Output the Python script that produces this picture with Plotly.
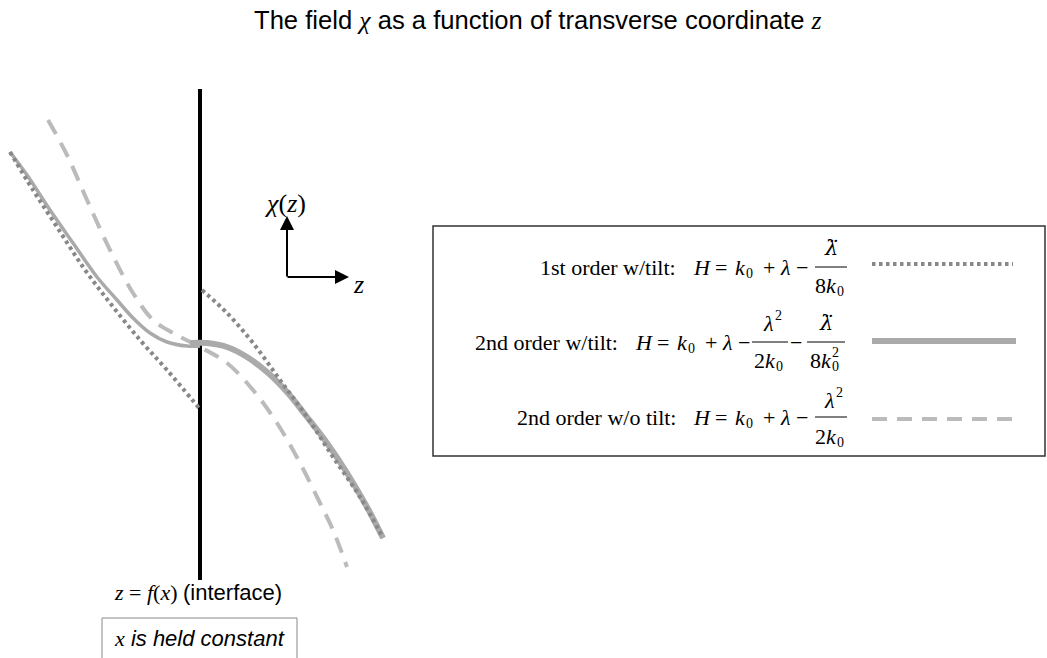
import plotly.graph_objects as go

# Drawing units: horizontal = transverse coordinate z, vertical = field chi (screen-down positive)
W, H_FIG = 1047, 658

# Interface location
interface_z = [200, 200]
interface_chi = [89, 580]

# 2nd order w/tilt (solid), left and right of the interface
solid_left_z = [10, 27, 50, 73, 97, 117, 133, 150, 167, 187, 200]
solid_left_chi = [152, 175, 210, 243, 277, 300, 318, 333, 342, 346, 346]
solid_right_z = [190, 207, 227, 247, 267, 287, 307, 327, 347, 367, 383]
solid_right_chi = [343, 343, 347, 357, 372, 392, 417, 443, 473, 507, 538]

# 1st order w/tilt (dotted), left and right of the interface
dot_left_z = [10, 33, 57, 83, 110, 140, 167, 199]
dot_left_chi = [152, 190, 227, 267, 303, 340, 370, 408]
dot_right_z = [202, 227, 253, 280, 307, 333, 360, 383]
dot_right_chi = [290, 313, 343, 380, 417, 457, 497, 538]

# 2nd order w/o tilt (dashed)
dash_z = [48, 67, 87, 110, 133, 153, 173, 200, 227, 253, 277, 300, 320, 333, 347]
dash_chi = [120, 155, 200, 250, 293, 320, 333, 347, 363, 390, 423, 463, 503, 530, 567]

# Legend row labels
row_labels = ["1st order w/tilt:", "2nd order w/tilt:", "2nd order w/o tilt:"]

C_DOT = "#888888"
C_SOLID = "#aaaaaa"
C_DASH = "#bbbbbb"
SERIF = "Liberation Serif"
SANS = "Liberation Sans"

fig = go.Figure()

fig.add_trace(go.Scatter(x=interface_z, y=interface_chi, mode="lines",
                         line=dict(color="black", width=4), hoverinfo="skip"))
fig.add_trace(go.Scatter(x=dash_z, y=dash_chi, mode="lines",
                         line=dict(color=C_DASH, width=4, dash="16px,10px", shape="spline"),
                         hoverinfo="skip"))
fig.add_trace(go.Scatter(x=solid_left_z, y=solid_left_chi, mode="lines",
                         line=dict(color=C_SOLID, width=3.5, shape="spline"), hoverinfo="skip"))
fig.add_trace(go.Scatter(x=solid_right_z, y=solid_right_chi, mode="lines",
                         line=dict(color=C_SOLID, width=6, shape="spline"), hoverinfo="skip"))
fig.add_trace(go.Scatter(x=dot_left_z, y=dot_left_chi, mode="lines",
                         line=dict(color=C_DOT, width=4, dash="3.5px,3.5px", shape="spline"),
                         hoverinfo="skip"))
fig.add_trace(go.Scatter(x=dot_right_z, y=dot_right_chi, mode="lines",
                         line=dict(color=C_DOT, width=4, dash="3.5px,3.5px", shape="spline"),
                         hoverinfo="skip"))

shapes = []
annotations = []


def txt(x, y, text, size=22, family=SERIF, xanchor="center", yanchor="middle", **kw):
    annotations.append(dict(x=x, y=y, xref="x", yref="y", text=text, showarrow=False,
                            xanchor=xanchor, yanchor=yanchor,
                            font=dict(family=family, size=size, color="black"), **kw))


def hline(x0, x1, y, color="black", width=1, dash=None):
    line = dict(color=color, width=width)
    if dash:
        line["dash"] = dash
    shapes.append(dict(type="line", xref="x", yref="y", x0=x0, x1=x1, y0=y, y1=y, line=line))


def arrow(x_tip, y_tip, x_tail, y_tail):
    annotations.append(dict(x=x_tip, y=y_tip, ax=x_tail, ay=y_tail, xref="x", yref="y",
                            axref="x", ayref="y", text="", showarrow=True, arrowhead=2,
                            arrowsize=1.4, arrowwidth=2, arrowcolor="black",
                            font=dict(size=12)))


def k_sub(x_right, y, prefix="", sup=None):
    """prefix + italic k, with a small subscript 0 (and optional superscript) after it."""
    txt(x_right, y, f"{prefix}<i>k</i>", xanchor="right", borderpad=0)
    txt(x_right - 2, y + 6, "0", size=14, xanchor="left", borderpad=0)
    if sup:
        txt(x_right - 2, y - 8, sup, size=14, xanchor="left", borderpad=0)


def lam_sq(x_right, y):
    txt(x_right, y, "<i>λ</i>", xanchor="right", borderpad=0)
    txt(x_right - 1, y - 8, "2", size=14, xanchor="left", borderpad=0)


def lam_ddot(x, y):
    # lambda with a combining diaeresis (second time derivative)
    txt(x, y, "<i>λ\u0308</i>", size=21, family="DejaVu Serif")


# Title
txt(538, 20, "The field <span style=\"font-family:Liberation Serif\"><i>χ</i></span> as a function "
             "of transverse coordinate <span style=\"font-family:Liberation Serif\"><i>z</i></span>",
    size=25.6, family=SANS)

# Coordinate arrows
arrow(287, 216, 287, 278)
arrow(349, 277, 286, 277)
txt(285, 203, "<i>χ</i>(<i>z</i>)", size=26)
txt(358, 284, "<i>z</i>", size=26)

# Interface caption and note
txt(112, 592, "<i>z</i> = <i>f</i>(<i>x</i>) <span style=\"font-family:Liberation Sans\">(interface)</span>",
    size=22, xanchor="left")
shapes.append(dict(type="rect", xref="x", yref="y", x0=102, x1=297, y0=618, y1=662,
                   line=dict(color="#888888", width=1)))
txt(112, 638, "<i>x</i><span style=\"font-family:Liberation Sans\"><i> is held constant</i></span>",
    size=22, xanchor="left")

# Legend box
shapes.append(dict(type="rect", xref="x", yref="y", x0=433, x1=1045, y0=226, y1=456,
                   line=dict(color="#333333", width=1.5)))


def lhs(y, label, label_end, h_left):
    """Row label followed by  H = k0 + lambda -"""
    txt(label_end, y, label, xanchor="right")
    txt(h_left, y, "<i>H</i>", xanchor="left")
    txt(h_left + 30, y, "=")
    k_sub(h_left + 56, y)
    txt(h_left + 78, y, "+")
    txt(h_left + 87, y, "<i>λ</i>", xanchor="left")
    txt(h_left + 111, y, "−")


# Row 1: 1st order w/tilt
y1 = 267
lhs(y1, row_labels[0], 678, 691)
hline(815, 847, y1)
lam_ddot(831, y1 - 19)
k_sub(838, y1 + 18, prefix="8")
hline(872, 1013, 264, color=C_DOT, width=4, dash="3.5px,3.5px")

# Row 2: 2nd order w/tilt
y2 = 342
lhs(y2, row_labels[1], 620, 633)
hline(752, 788, y2)
lam_sq(775, y2 - 19)
k_sub(777, y2 + 18, prefix="2")
txt(796, y2, "−")
hline(807, 845, y2)
lam_ddot(826, y2 - 19)
k_sub(833, y2 + 18, prefix="8", sup="2")
hline(872, 1016, 341, color=C_SOLID, width=6)

# Row 3: 2nd order w/o tilt
y3 = 417
lhs(y3, row_labels[2], 678, 691)
hline(815, 847, y3)
lam_sq(836, y3 - 17)
k_sub(838, y3 + 19, prefix="2")
hline(872, 1013, 419, color=C_DASH, width=4, dash="15px,10px")

fig.update_layout(
    width=W, height=H_FIG, autosize=False,
    margin=dict(l=0, r=0, t=0, b=0, pad=0),
    paper_bgcolor="white", plot_bgcolor="white",
    showlegend=False,
    xaxis=dict(range=[0, W], visible=False, fixedrange=True),
    yaxis=dict(range=[H_FIG, 0], visible=False, fixedrange=True),
    shapes=shapes, annotations=annotations,
)

fig.write_html("out.html")
